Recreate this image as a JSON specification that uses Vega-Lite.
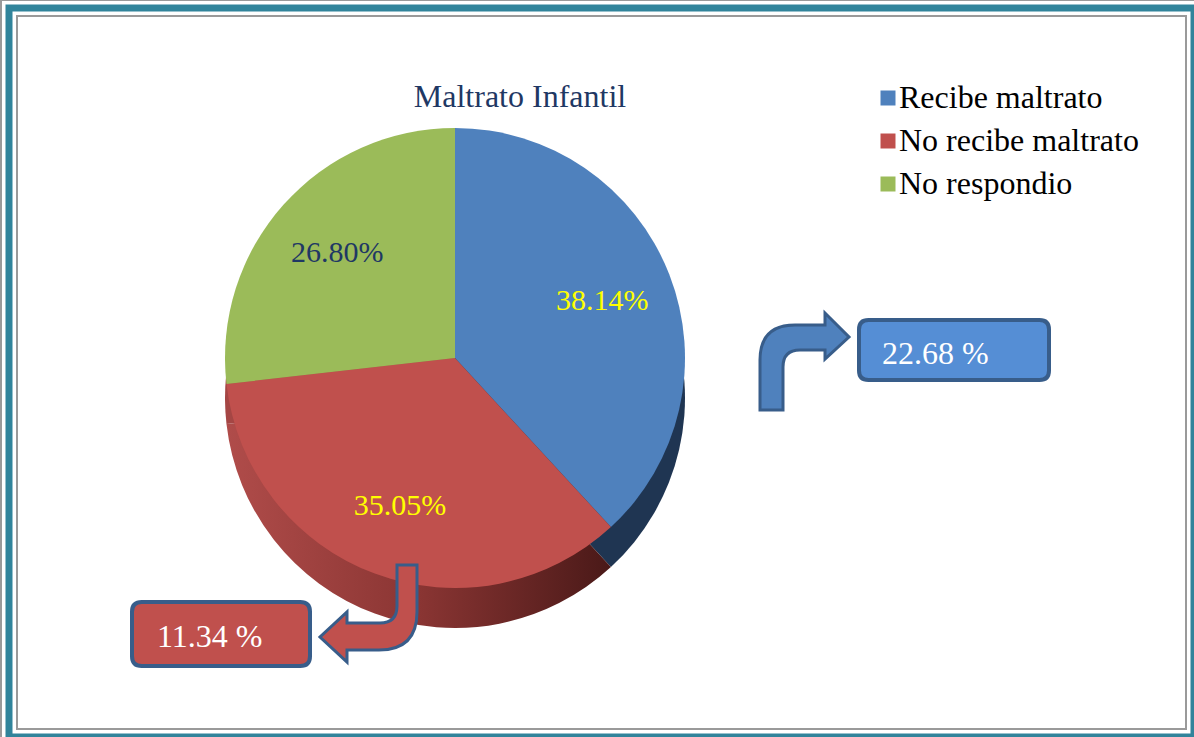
{
  "$schema": "https://vega.github.io/schema/vega-lite/v6.json",
  "width": 1185,
  "height": 729,
  "autosize": {"type": "none"},
  "padding": {"left": 9, "top": 8, "right": 0, "bottom": 0},
  "background": "white",
  "config": {
    "view": {"stroke": null},
    "font": "Liberation Serif",
    "legend": {
      "orient": "none",
      "legendX": 863,
      "legendY": 74,
      "padding": 0,
      "symbolType": "square",
      "symbolSize": 225,
      "symbolStrokeWidth": 0,
      "labelFont": "Liberation Serif",
      "labelFontSize": 32,
      "labelColor": "#000000",
      "labelOffset": -5,
      "rowPadding": 11,
      "labelLimit": 400
    }
  },
  "data": {
    "values": [
      {"categoria": "Recibe maltrato", "porcentaje": 0.3814, "orden": 1},
      {"categoria": "No recibe maltrato", "porcentaje": 0.3505, "orden": 2},
      {"categoria": "No respondio", "porcentaje": 0.268, "orden": 3}
    ]
  },
  "layer": [
    {
      "data": {"values": [{"marco": "sombra"}]},
      "mark": {"type": "rect", "fill": null, "stroke": "#9A9A9A", "strokeWidth": 18},
      "encoding": {}
    },
    {
      "data": {"values": [{"marco": "hueco"}]},
      "mark": {"type": "rect", "fill": null, "stroke": "#FFFFFF", "strokeWidth": 14},
      "encoding": {}
    },
    {
      "data": {"values": [{"marco": "borde"}]},
      "mark": {"type": "rect", "fill": null, "stroke": "#31849B", "strokeWidth": 7},
      "encoding": {}
    },
    {
      "mark": {"type": "arc", "radius": 230, "xOffset": -146.5, "yOffset": 25.5},
      "encoding": {
        "theta": {"field": "porcentaje", "type": "quantitative", "stack": true},
        "order": {"field": "orden", "type": "quantitative"},
        "detail": {"field": "categoria", "type": "nominal"},
        "fill": {
          "condition": [
            {"test": "datum.categoria === 'Recibe maltrato'", "value": "#1F3552"},
            {"test": "datum.categoria === 'No recibe maltrato'", "value": {"gradient": "linear", "x1": 0, "x2": 1, "y1": 0, "y2": 0, "stops": [{"offset": 0, "color": "#B04C4A"}, {"offset": 0.5, "color": "#8A3533"}, {"offset": 1, "color": "#4A1918"}]}}
          ],
          "value": "#A54644"
        }
      }
    },
    {
      "mark": {"type": "arc", "radius": 230, "xOffset": -146.5, "yOffset": -14.5},
      "encoding": {
        "theta": {"field": "porcentaje", "type": "quantitative", "stack": true},
        "order": {"field": "orden", "type": "quantitative"},
        "color": {
          "field": "categoria",
          "type": "nominal",
          "scale": {"domain": ["Recibe maltrato", "No recibe maltrato", "No respondio"], "range": ["#4F81BD", "#C0504D", "#9BBB59"]},
          "legend": {"title": null}
        }
      }
    },
    {
      "mark": {"type": "text", "radius": 158, "dx": -146.5, "dy": -14.5, "fontSize": 30, "font": "Liberation Serif", "align": "center", "baseline": "middle"},
      "encoding": {
        "theta": {"field": "porcentaje", "type": "quantitative", "stack": true},
        "order": {"field": "orden", "type": "quantitative"},
        "detail": {"field": "categoria", "type": "nominal"},
        "text": {"field": "porcentaje", "type": "quantitative", "format": ".2%"},
        "fill": {"condition": {"test": "datum.categoria === 'No respondio'", "value": "#1F3864"}, "value": "#FFFF00"}
      }
    },
    {
      "data": {"values": [{"titulo": "Maltrato Infantil"}]},
      "mark": {"type": "text", "fontSize": 32, "font": "Liberation Serif", "fill": "#1F3864", "align": "center", "baseline": "middle", "dx": -81.5, "dy": -275.5},
      "encoding": {"text": {"field": "titulo", "type": "nominal"}}
    },
    {
      "data": {"values": [{"flecha": "Recibe maltrato"}]},
      "mark": {"type": "point", "shape": "M-0.9,0.98 L-0.9,-0.02 Q-0.9,-0.72 -0.2,-0.72 L0.4,-0.72 L0.4,-0.96 L0.88,-0.48 L0.4,-0.04 L0.4,-0.22 L-0.1,-0.22 Q-0.44,-0.22 -0.44,0.12 L-0.44,0.98 Z", "size": 10000, "filled": true, "fill": "#4F81BD", "stroke": "#385D8A", "strokeWidth": 3, "opacity": 1, "xOffset": 203.5, "yOffset": -11.5},
      "encoding": {}
    },
    {
      "data": {"values": [{"flecha": "No recibe maltrato"}]},
      "mark": {"type": "point", "shape": "M0.58,-0.96 L0.98,-0.96 L0.98,-0.02 Q0.98,0.74 0.22,0.74 L-0.42,0.74 L-0.42,0.98 L-0.96,0.48 L-0.42,-0.02 L-0.42,0.2 L0.24,0.2 Q0.58,0.2 0.58,-0.14 Z", "size": 10000, "filled": true, "fill": "#C0504D", "stroke": "#385D8A", "strokeWidth": 3, "opacity": 1, "xOffset": -233.5, "yOffset": 240.5},
      "encoding": {}
    },
    {
      "data": {"values": [{"recuadro": "22.68 %"}]},
      "mark": {"type": "point", "shape": "M-0.9,-0.316 L0.9,-0.316 Q1,-0.316 1,-0.216 L1,0.216 Q1,0.316 0.9,0.316 L-0.9,0.316 Q-1,0.316 -1,0.216 L-1,-0.216 Q-1,-0.316 -0.9,-0.316 Z", "size": 36100, "filled": true, "fill": "#558ED5", "stroke": "#385D8A", "strokeWidth": 4, "opacity": 1, "xOffset": 352.5, "yOffset": -22.5},
      "encoding": {}
    },
    {
      "data": {"values": [{"recuadro": "11.34 %"}]},
      "mark": {"type": "point", "shape": "M-0.89,-0.36 L0.89,-0.36 Q1,-0.36 1,-0.25 L1,0.25 Q1,0.36 0.89,0.36 L-0.89,0.36 Q-1,0.36 -1,0.25 L-1,-0.25 Q-1,-0.36 -0.89,-0.36 Z", "size": 31684, "filled": true, "fill": "#C0504D", "stroke": "#385D8A", "strokeWidth": 4, "opacity": 1, "xOffset": -380.5, "yOffset": 261.5},
      "encoding": {}
    },
    {
      "data": {"values": [{"recuadro": "22.68 %"}]},
      "mark": {"type": "text", "fontSize": 32, "font": "Liberation Serif", "fill": "#FFFFFF", "align": "left", "baseline": "middle", "dx": 280.5, "dy": -18.5},
      "encoding": {"text": {"field": "recuadro", "type": "nominal"}}
    },
    {
      "data": {"values": [{"recuadro": "11.34 %"}]},
      "mark": {"type": "text", "fontSize": 32, "font": "Liberation Serif", "fill": "#FFFFFF", "align": "left", "baseline": "middle", "dx": -444.5, "dy": 264.5},
      "encoding": {"text": {"field": "recuadro", "type": "nominal"}}
    }
  ]
}
